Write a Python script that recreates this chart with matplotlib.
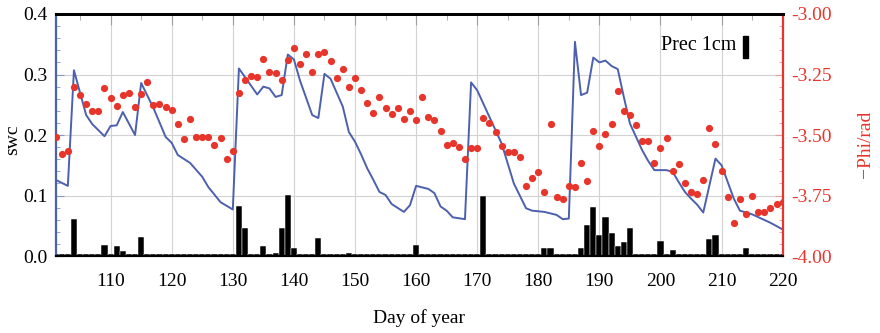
import matplotlib
matplotlib.use("Agg")
import matplotlib.pyplot as plt
import matplotlib.transforms as mtransforms
from matplotlib.patches import Rectangle
from matplotlib.ticker import MultipleLocator, FormatStrFormatter

plt.rcParams['font.family'] = ['Liberation Serif', 'DejaVu Serif']
plt.rcParams['axes.unicode_minus'] = False

# soil water content (line), day of year -> swc
swc_days = [101, 103, 104, 106, 107, 109, 110, 111, 112, 114, 115, 117, 119, 120,
            121, 123, 125, 126, 128, 130, 131, 134, 135, 136, 137, 138, 139, 140,
            141, 143, 144, 145, 146, 148, 149, 150, 151, 152, 153, 154, 155, 156,
            158, 159, 160, 162, 163, 164, 165, 166, 168, 169, 170, 172, 174, 175,
            176, 178, 179, 181, 183, 184, 185, 186, 187, 188, 189, 190, 191, 192,
            193, 194, 195, 196, 197, 198, 199, 201, 202, 203, 204, 205, 206, 207,
            209, 210, 212, 213, 215, 218, 220]
swc_vals = [0.126, 0.116, 0.307, 0.233, 0.218, 0.198, 0.215, 0.216, 0.238, 0.200,
            0.286, 0.245, 0.197, 0.187, 0.167, 0.154, 0.131, 0.114, 0.089, 0.077,
            0.310, 0.267, 0.280, 0.277, 0.263, 0.266, 0.333, 0.325, 0.290, 0.233,
            0.228, 0.301, 0.293, 0.247, 0.205, 0.189, 0.168, 0.145, 0.126, 0.106,
            0.101, 0.086, 0.073, 0.084, 0.116, 0.111, 0.104, 0.082, 0.075, 0.064,
            0.061, 0.287, 0.274, 0.230, 0.186, 0.153, 0.120, 0.079, 0.075, 0.073,
            0.068, 0.061, 0.062, 0.354, 0.266, 0.270, 0.328, 0.320, 0.323, 0.314,
            0.309, 0.263, 0.219, 0.197, 0.175, 0.157, 0.142, 0.142, 0.139, 0.122,
            0.106, 0.095, 0.085, 0.072, 0.161, 0.150, 0.095, 0.075, 0.069, 0.055,
            0.044]

# -Phi (red dots), one per day from 101 to 220
phi_days = list(range(101, 221))
phi_vals = [-3.510, -3.580, -3.566, -3.303, -3.335, -3.371, -3.400, -3.400, -3.306, -3.346,
            -3.380, -3.333, -3.325, -3.384, -3.332, -3.280, -3.376, -3.373, -3.386, -3.397,
            -3.455, -3.518, -3.435, -3.507, -3.510, -3.510, -3.541, -3.514, -3.599, -3.566,
            -3.325, -3.273, -3.256, -3.259, -3.187, -3.241, -3.245, -3.273, -3.190, -3.139,
            -3.207, -3.165, -3.238, -3.165, -3.158, -3.194, -3.266, -3.227, -3.300, -3.263,
            -3.314, -3.369, -3.410, -3.344, -3.387, -3.413, -3.390, -3.434, -3.401, -3.438,
            -3.342, -3.427, -3.438, -3.482, -3.541, -3.532, -3.551, -3.599, -3.552, -3.552,
            -3.428, -3.452, -3.489, -3.544, -3.572, -3.572, -3.592, -3.709, -3.679, -3.654,
            -3.734, -3.456, -3.757, -3.766, -3.709, -3.713, -3.614, -3.689, -3.483, -3.544,
            -3.496, -3.456, -3.318, -3.400, -3.417, -3.459, -3.523, -3.523, -3.617, -3.552,
            -3.511, -3.649, -3.621, -3.697, -3.737, -3.744, -3.686, -3.472, -3.538, -3.649,
            -3.757, -3.865, -3.766, -3.826, -3.751, -3.819, -3.819, -3.803, -3.785, -3.777]

# precipitation (mm), days with rain
prec_days = [104, 109, 111, 112, 115, 117, 131, 132, 134, 135, 137, 138, 139, 140,
             143, 144, 149, 160, 168, 171, 181, 182, 184, 187, 188, 189, 190, 191,
             192, 193, 194, 195, 200, 202, 208, 209, 211, 214]
prec_mm = [16.8, 4.9, 4.7, 2.2, 8.8, 0.5, 22.8, 12.9, 0.8, 4.7, 1.4, 12.9, 27.7, 3.8,
           0.8, 8.0, 1.4, 5.2, 0.5, 27.2, 3.6, 3.6, 0.5, 3.6, 14.3, 22.3, 9.6, 17.9,
           10.4, 4.7, 6.3, 12.9, 6.9, 2.7, 7.7, 9.6, 0.5, 3.6]

cm_scale = 0.0364  # 1 cm of rain in swc units

blue = '#4d60ad'
red = '#e8352b'

fig = plt.figure(figsize=(8.8, 3.33), dpi=100)
ax = fig.add_axes([0.0632, 0.231, 0.8262, 0.727])
ax2 = ax.twinx()

# precipitation bars (every day gets a thin stub along the baseline)
rain = dict(zip(prec_days, prec_mm))
all_days = list(range(101, 221))
bar_h = [max(rain.get(d, 0.0) / 10.0 * cm_scale, 0.004) for d in all_days]
ax.bar(all_days, bar_h, width=1.0, color='black', edgecolor='white', linewidth=0.35, zorder=2)

ax.plot(swc_days, swc_vals, color=blue, lw=1.4, zorder=3)

ax2.plot(phi_days, phi_vals, 'o', color=red, ms=5.2, mec='none', zorder=4)

ax.set_xlim(101, 220)
ax.set_ylim(0, 0.4)
ax2.set_ylim(-4.0, -3.0)

ax.xaxis.set_major_locator(MultipleLocator(10))
ax.xaxis.set_minor_locator(MultipleLocator(5))
ax.yaxis.set_major_locator(MultipleLocator(0.1))
ax.yaxis.set_minor_locator(MultipleLocator(0.02))
ax.yaxis.set_major_formatter(FormatStrFormatter('%.1f'))
ax2.yaxis.set_major_locator(MultipleLocator(0.25))
ax2.yaxis.set_minor_locator(MultipleLocator(0.05))
ax2.yaxis.set_major_formatter(FormatStrFormatter('%.2f'))

ax.grid(True, which='major', color='#d2d2d2', lw=0.8, zorder=0)
ax.set_axisbelow(True)

ax.tick_params(axis='x', which='both', direction='in', top=True, bottom=False,
               color='#a0a0a0', labelsize=14, pad=12)
ax.tick_params(axis='x', which='major', length=8)
ax.tick_params(axis='x', which='minor', length=4)
ax.tick_params(axis='y', which='both', direction='in', color='#8a96c8', labelsize=14, pad=6)
ax.tick_params(axis='y', which='major', length=6)
ax.tick_params(axis='y', which='minor', length=3)
ax2.tick_params(axis='y', which='both', direction='in', color='#e89a94',
                labelcolor=red, labelsize=14, pad=6)
ax2.tick_params(axis='y', which='major', length=6)
ax2.tick_params(axis='y', which='minor', length=3)

for a in (ax, ax2):
    a.spines['top'].set_color('black')
    a.spines['top'].set_linewidth(2.0)
    a.spines['bottom'].set_color('black')
    a.spines['bottom'].set_linewidth(1.5)
ax.spines['left'].set_color(blue)
ax.spines['left'].set_linewidth(1.6)
ax.spines['right'].set_visible(False)
ax2.spines['left'].set_visible(False)
ax2.spines['right'].set_color(red)
ax2.spines['right'].set_linewidth(1.6)

ax.set_xlabel('Day of year', fontsize=14, labelpad=14)
ax.set_ylabel('swc', fontsize=14)
ax.yaxis.set_label_coords(-0.047, 0.48)
ax2.set_ylabel('\u2212Phi/rad', fontsize=14, color=red)
ax2.yaxis.set_label_coords(1.102, 0.46)

# precipitation scale legend
ax.text(0.936, 0.868, 'Prec 1cm', transform=ax.transAxes, ha='right', va='center',
        fontsize=14.5)
trans = mtransforms.blended_transform_factory(ax.transAxes, ax.transData)
ax.add_patch(Rectangle((0.946, 0.328), 0.0065, cm_scale, transform=trans,
                       color='black', zorder=5))

fig.savefig('out.png', dpi=100)
